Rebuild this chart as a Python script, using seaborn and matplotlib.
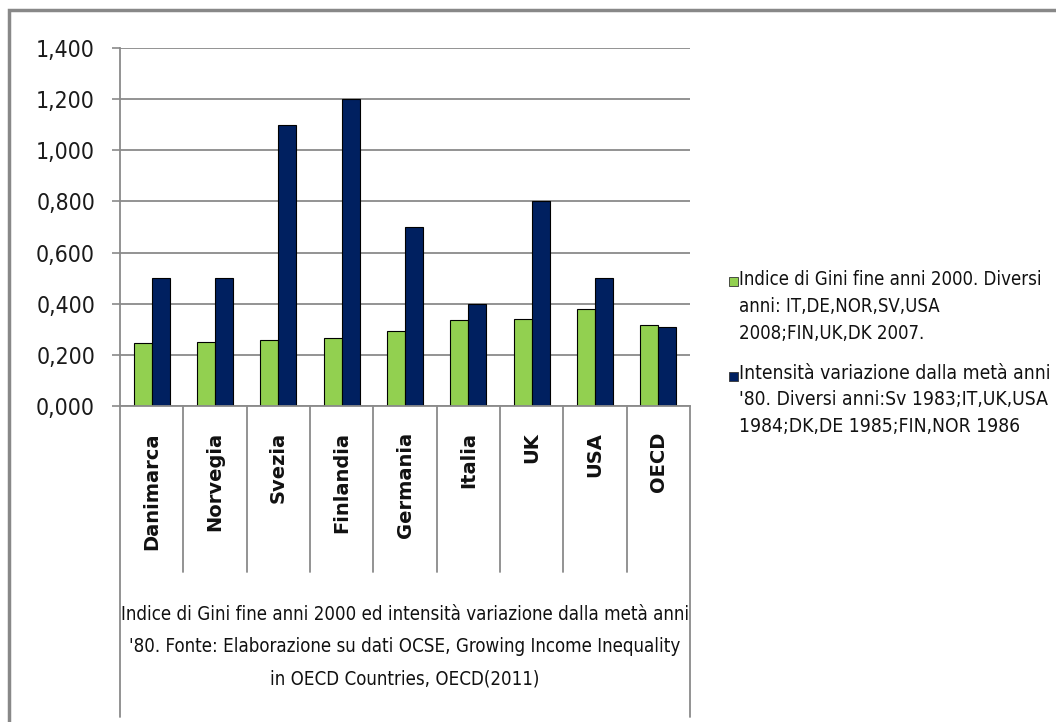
import matplotlib
matplotlib.use("Agg")
import matplotlib.pyplot as plt
from matplotlib.patches import Rectangle
from matplotlib.lines import Line2D
from matplotlib import font_manager
from matplotlib.font_manager import FontProperties
import seaborn as sns
import pandas as pd

# Data
paesi = ["Danimarca", "Norvegia", "Svezia", "Finlandia", "Germania",
         "Italia", "UK", "USA", "OECD"]
gini_fine_2000 = [0.245, 0.250, 0.259, 0.265, 0.295, 0.335, 0.342, 0.378, 0.316]
intensita_variazione = [0.50, 0.50, 1.10, 1.20, 0.70, 0.40, 0.80, 0.50, 0.31]
serie = [
    "Indice di Gini fine anni 2000. Diversi\nanni: IT,DE,NOR,SV,USA\n2008;FIN,UK,DK 2007.",
    "Intensità variazione dalla metà anni\n'80. Diversi anni:Sv 1983;IT,UK,USA\n1984;DK,DE 1985;FIN,NOR 1986",
]
colori = ["#92D050", "#002060"]
y_ticks = [0.0, 0.2, 0.4, 0.6, 0.8, 1.0, 1.2, 1.4]
titolo_asse = ("Indice di Gini fine anni 2000 ed intensità variazione dalla metà anni\n"
               "'80. Fonte: Elaborazione su dati OCSE, Growing Income Inequality\n"
               "in OECD Countries, OECD(2011)")

df = pd.DataFrame({
    "paese": paesi * 2,
    "valore": gini_fine_2000 + intensita_variazione,
    "serie": [serie[0]] * len(paesi) + [serie[1]] * len(paesi),
})

sns.set_theme(style="white")
plt.rcParams["font.family"] = ["DejaVu Sans"]


def narrow_font():
    """Pick a condensed sans face if one is installed, else Liberation Sans."""
    cond = [f for f in font_manager.fontManager.ttflist
            if str(f.stretch) in ("condensed", "semi-condensed", "extra-condensed")
            and f.style == "normal" and f.weight in (400, "normal", "regular")]
    if cond:
        return FontProperties(fname=cond[0].fname)
    return FontProperties(family=["Liberation Sans", "DejaVu Sans"])


NARROW = narrow_font()

W, H = 1056, 722
fig = plt.figure(figsize=(W / 100, H / 100), dpi=100)
fig.patch.set_facecolor("white")
renderer = fig.canvas.get_renderer()


def fit_width(text_obj, target_px):
    """Scale a text's font size so that its box is target_px wide."""
    w = text_obj.get_window_extent(renderer).width
    text_obj.set_fontsize(text_obj.get_fontsize() * target_px / w)


# axes box in pixels: left 120, right 690, top 48, bottom 406
ax = fig.add_axes([120 / W, (H - 406) / H, 570 / W, 358 / H])

sns.barplot(data=df, x="paese", y="valore", hue="serie", order=paesi,
            hue_order=serie, palette=colori, width=0.57, saturation=1,
            edgecolor="black", linewidth=0.8, legend=False, ax=ax)

ax.set_ylim(0, 1.4)
ax.set_xlim(-0.5, len(paesi) - 0.5)
ax.set_yticks(y_ticks)
ticklabs = ax.set_yticklabels([f"{v:.3f}".replace(".", ",") for v in y_ticks],
                              fontproperties=NARROW, color="#1a1a1a")
ax.set_xticks([])
ax.set_xlabel("")
ax.set_ylabel("")
ax.grid(axis="y", color="#8a8a8a", linewidth=1.3)
ax.set_axisbelow(True)
for s in ["top", "right"]:
    ax.spines[s].set_visible(False)
for s in ["left", "bottom"]:
    ax.spines[s].set_color("#8a8a8a")
    ax.spines[s].set_linewidth(1.3)
ax.tick_params(axis="y", which="major", left=True, length=6, width=1.2,
               color="#8a8a8a", pad=12)
# tick labels: "1,400" about 59 px wide
probe = fig.text(0, 0, "1,400", fontproperties=NARROW, fontsize=20)
w0 = probe.get_window_extent(renderer).width
probe.remove()
tick_size = 20 * 59 / w0
for t in ax.get_yticklabels():
    t.set_fontsize(tick_size)

# category boxes below the axis
tr = ax.get_xaxis_transform()
sep_bottom = (406 - 572) / 358
outer_bottom = (406 - 717) / 358
for k in range(len(paesi) + 1):
    xb = k - 0.5
    y0 = outer_bottom if k in (0, len(paesi)) else sep_bottom
    ax.add_line(Line2D([xb, xb], [0, y0], transform=tr, color="#8a8a8a",
                       linewidth=1.3, clip_on=False))
lab_top = (406 - 432) / 358
for i, p in enumerate(paesi):
    ax.text(i, lab_top, p, transform=tr, rotation=90, ha="center", va="top",
            fontsize=14, fontweight="bold", color="#111111")

# axis title block under the categories
tt = ax.text(0.5, (406 - 647) / 358, titolo_asse, transform=ax.transAxes,
             ha="center", va="center", fontproperties=NARROW, fontsize=18,
             linespacing=1.3, color="#111111")
fit_width(tt, 566)
tt.set_linespacing(35 / (tt.get_fontsize() * 100 / 72) / 1.0)

# legend
leg_y = [281, 376]
for col, lab, yc in zip(colori, serie, leg_y):
    fig.patches.append(Rectangle((729 / W, (H - yc - 5) / H), 9 / W, 9 / H,
                                 transform=fig.transFigure, facecolor=col,
                                 edgecolor="#333333", linewidth=0.6))
    lt = fig.text(739 / W, (H - yc) / H, lab, ha="left", va="baseline",
                  fontproperties=NARROW, fontsize=17, color="#111111")
    fit_width(lt, 310 if col == colori[1] else 302)
    fs_px = lt.get_fontsize() * 100 / 72
    lt.set_linespacing(28.5 / fs_px)
    # anchor the first line's centre on the marker
    lt.set_va("top")
    lt.set_y((H - yc + 0.62 * fs_px) / H)

# chart frame
fig.patches.append(Rectangle((9 / W, -0.1), 1.2, (H - 10) / H + 0.1,
                             transform=fig.transFigure, fill=False,
                             edgecolor="#888888", linewidth=2.5))

fig.savefig("out.png", dpi=100)
